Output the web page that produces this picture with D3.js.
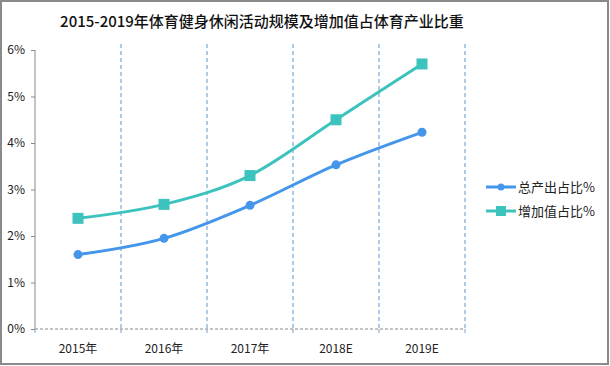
<!DOCTYPE html>
<html>
<head>
<meta charset="utf-8">
<script src="https://cdn.jsdelivr.net/npm/d3@7"></script>
<style>
body { margin:0; background:#fff; }
svg text { font-family: "Noto Sans CJK SC", "Noto Sans", sans-serif; }
</style>
</head>
<body>
<svg id="view"></svg>
<script>
var years = ["2015年","2016年","2017年","2018E","2019E"];
var outputShare = [1.6, 1.95, 2.66, 3.53, 4.23];
var addedShare = [2.38, 2.68, 3.3, 4.5, 5.7];
var yTicks = [0,1,2,3,4,5,6];
var seriesNames = ["总产出占比%","增加值占比%"];
var colors = ["#4596eb","#3cc3bd"];

var width = 610, height = 366;
var svg = d3.select("#view").attr("width", width).attr("height", height);

// frame
svg.append("rect").attr("x",1).attr("y",1).attr("width",width-3).attr("height",height-3)
	.attr("fill","#fff").attr("stroke","#8a8a8a").attr("stroke-width",2);

svg.append("text").attr("x",262).attr("y",27).attr("text-anchor","middle")
	.attr("font-size",15).attr("font-weight",500).attr("fill","#111")
	.text("2015-2019年体育健身休闲活动规模及增加值占体育产业比重");

var x = d3.scaleBand().domain(years).range([35,465]);
var y = d3.scaleLinear().domain([0,6]).range([329,50]);

// vertical dashed grid
var bounds = years.map(d => x(d) + x.bandwidth());
svg.append("g").selectAll("line").data(bounds).join("line")
	.attr("x1", d => d).attr("x2", d => d).attr("y1", 44).attr("y2", 329)
	.attr("stroke","#5a97cf").attr("stroke-width",1).attr("stroke-dasharray","4,3");

// y axis
var yAxis = svg.append("g").attr("transform","translate(35,0)")
	.call(d3.axisLeft(y).tickValues(yTicks).tickSize(4).tickFormat(d => d + "%"));
yAxis.select(".domain").attr("stroke","#888").attr("d","M0,50V329");
yAxis.selectAll(".tick line").attr("stroke","#888");
yAxis.selectAll("text").attr("font-size",12).attr("fill","#222").attr("x",-10);

// x axis
var xAxis = svg.append("g").attr("transform","translate(0,329)");
xAxis.append("line").attr("x1",35).attr("x2",465).attr("stroke","#888").attr("stroke-dasharray","3,2");
xAxis.selectAll(".tk").data([35].concat(bounds)).join("line").attr("class","tk")
	.attr("x1", d => d).attr("x2", d => d).attr("y1",0).attr("y2",4).attr("stroke","#7aa0c8");
xAxis.selectAll("text").data(years).join("text")
	.attr("x", d => x(d) + x.bandwidth()/2).attr("y",24).attr("text-anchor","middle")
	.attr("font-size",12).attr("fill","#222").text(d => d);

var line = d3.line().x((d,i) => x(years[i]) + x.bandwidth()/2).y(d => y(d)).curve(d3.curveMonotoneX);

svg.append("path").datum(outputShare).attr("d", line).attr("fill","none")
	.attr("stroke",colors[0]).attr("stroke-width",3);
svg.append("path").datum(addedShare).attr("d", line).attr("fill","none")
	.attr("stroke",colors[1]).attr("stroke-width",3);

svg.append("g").selectAll("circle").data(outputShare).join("circle")
	.attr("cx",(d,i) => x(years[i]) + x.bandwidth()/2).attr("cy", d => y(d)).attr("r",4.5)
	.attr("fill",colors[0]);
svg.append("g").selectAll("rect").data(addedShare).join("rect")
	.attr("x",(d,i) => x(years[i]) + x.bandwidth()/2 - 5.5).attr("y", d => y(d) - 5.5)
	.attr("width",11).attr("height",11).attr("fill",colors[1]);

// legend
var leg = svg.append("g").selectAll("g").data(seriesNames).join("g")
	.attr("transform",(d,i) => "translate(486," + (187 + i*24) + ")");
leg.append("line").attr("x1",0).attr("x2",30).attr("stroke",(d,i) => colors[i]).attr("stroke-width",3);
leg.filter((d,i) => i == 0).append("circle").attr("cx",15).attr("r",3.5).attr("fill",colors[0]);
leg.filter((d,i) => i == 1).append("rect").attr("x",10).attr("y",-5).attr("width",10).attr("height",10).attr("fill",colors[1]);
leg.append("text").attr("x",32).attr("y",4.5).attr("font-size",13).attr("fill","#222").text(d => d);
</script>
</body>
</html>
